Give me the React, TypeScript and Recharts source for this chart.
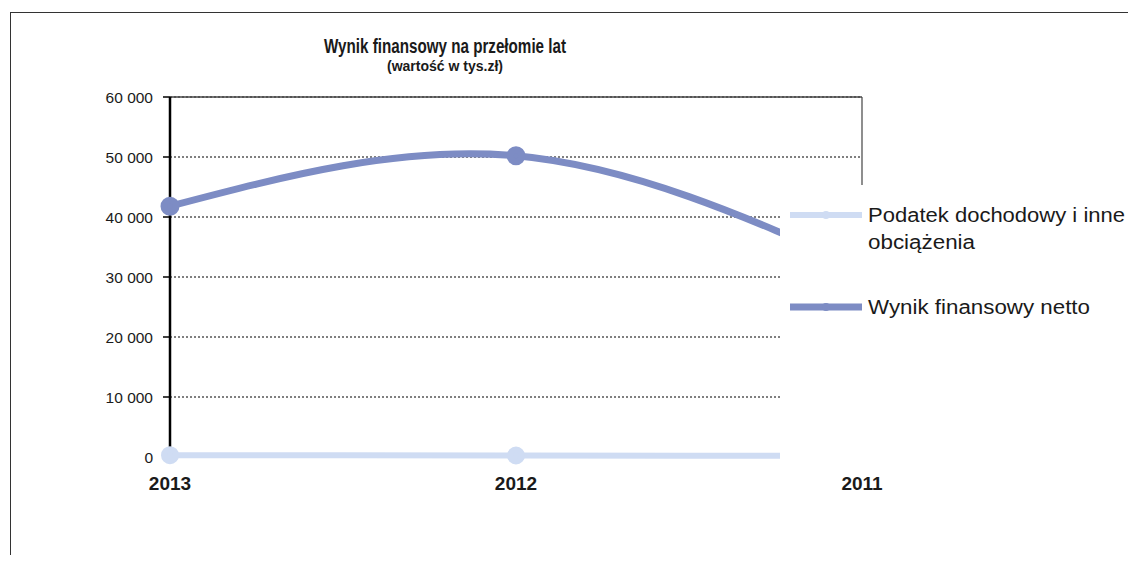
import React from "react";
import { LineChart, Line, XAxis, YAxis, CartesianGrid, ReferenceLine } from "recharts";

const years = ["2013", "2012", "2011"];
const podatek = [300, 250, 200];
const netto = [41800, 50200, 31500];
const yTicks = [0, 10000, 20000, 30000, 40000, 50000, 60000];

const data = years.map((year, i) => ({ year, podatek: podatek[i], netto: netto[i] }));

const SANS = "'Liberation Sans', Arial, sans-serif";
const NETTO = "#7d8cc4";
const PODATEK = "#cfdcf3";

const fmt = (v: number) => String(v).replace(/\B(?=(\d{3})+(?!\d))/g, " ");

// legend drawn as an overlay box, it hides the right end of the plot like in the original
const LegendBox = () => (
  <div style={{ position: "absolute", left: 780, top: 185, width: 356, height: 285, background: "#fff" }}>
    <svg width={356} height={285} style={{ display: "block" }}>
      <line x1={10} x2={82} y1={30} y2={30} stroke={PODATEK} strokeWidth={6} />
      <circle cx={46} cy={30} r={4} fill={PODATEK} />
      <text x={88} y={37} fontFamily={SANS} fontSize={20} fill="#1a1a1a" textLength={257} lengthAdjust="spacingAndGlyphs">
        Podatek dochodowy i inne
      </text>
      <text x={88} y={64} fontFamily={SANS} fontSize={20} fill="#1a1a1a" textLength={107} lengthAdjust="spacingAndGlyphs">
        obciążenia
      </text>
      <line x1={10} x2={82} y1={122} y2={122} stroke={NETTO} strokeWidth={7} />
      <circle cx={46} cy={122} r={4} fill={NETTO} />
      <text x={88} y={129} fontFamily={SANS} fontSize={20} fill="#1a1a1a" textLength={222} lengthAdjust="spacingAndGlyphs">
        Wynik finansowy netto
      </text>
    </svg>
  </div>
);

export default function App() {
  return (
    <div style={{ position: "relative", width: 1136, height: 563, margin: -8, overflow: "hidden", background: "#fff" }}>
      <div
        style={{
          position: "absolute",
          left: 10,
          top: 12,
          width: 1126,
          height: 551,
          borderLeft: "1.5px solid #333",
          borderTop: "1.5px solid #333",
          boxSizing: "border-box",
        }}
      />
      <LineChart width={1136} height={563} data={data} margin={{ top: 97, right: 274, left: 110, bottom: 66 }}>
        <CartesianGrid vertical={false} stroke="#000" strokeDasharray="2 2" />
        <ReferenceLine y={60000} stroke="#444" strokeWidth={1.5} />
        <ReferenceLine x="2011" stroke="#444" strokeWidth={1.2} />
        <XAxis
          dataKey="year"
          height={40}
          axisLine={false}
          tickLine={false}
          tickSize={6}
          tickMargin={14}
          tick={{ fontSize: 19, fontWeight: "bold", fill: "#1a1a1a", fontFamily: SANS }}
        />
        <YAxis
          width={60}
          domain={[0, 60000]}
          ticks={yTicks}
          tickFormatter={fmt}
          axisLine={{ stroke: "#000", strokeWidth: 2.5 }}
          tickLine={{ stroke: "#000", strokeWidth: 1.5 }}
          tickSize={7}
          tickMargin={10}
          tick={{ fontSize: 15.5, fill: "#1a1a1a", fontFamily: SANS }}
        />
        <Line
          type="natural"
          dataKey="podatek"
          name="Podatek dochodowy i inne obciążenia"
          stroke={PODATEK}
          strokeWidth={6}
          dot={{ r: 6, fill: PODATEK, stroke: PODATEK }}
          isAnimationActive={false}
        />
        <Line
          type="natural"
          dataKey="netto"
          name="Wynik finansowy netto"
          stroke={NETTO}
          strokeWidth={7}
          dot={{ r: 6, fill: NETTO, stroke: NETTO }}
          isAnimationActive={false}
        />
      </LineChart>
      <LegendBox />
      <svg width={1136} height={563} style={{ position: "absolute", left: 0, top: 0, pointerEvents: "none" }}>
        <text x={445} y={53} textAnchor="middle" fontFamily={SANS} fontWeight="bold" fontSize={20} fill="#1a1a1a" textLength={242} lengthAdjust="spacingAndGlyphs">
          Wynik finansowy na przełomie lat
        </text>
        <text x={445} y={71} textAnchor="middle" fontFamily={SANS} fontWeight="bold" fontSize={14} fill="#1a1a1a" textLength={116} lengthAdjust="spacingAndGlyphs">
          (wartość w tys.zł)
        </text>
      </svg>
    </div>
  );
}
